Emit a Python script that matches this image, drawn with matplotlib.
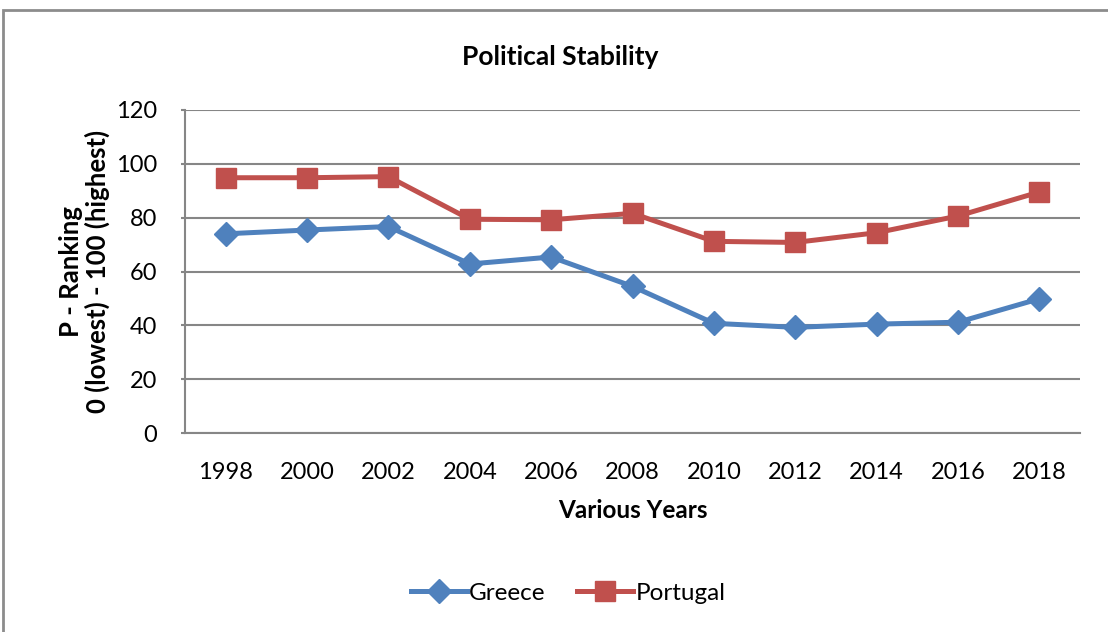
import matplotlib
matplotlib.use("Agg")
import matplotlib.pyplot as plt
from matplotlib.patches import Rectangle

years = ["1998", "2000", "2002", "2004", "2006", "2008", "2010", "2012", "2014", "2016", "2018"]
greece = [74.0, 75.4, 76.7, 62.8, 65.4, 54.5, 40.8, 39.3, 40.5, 41.2, 49.9]
portugal = [94.8, 94.8, 95.2, 79.4, 79.2, 81.6, 71.2, 70.8, 74.4, 80.6, 89.5]
yticks = [0, 20, 40, 60, 80, 100, 120]

plt.rcParams['font.family'] = ['Lato', 'DejaVu Sans']

W, H = 1108, 632
fig = plt.figure(figsize=(W / 100, H / 100), dpi=100)
fig.patches.append(Rectangle((3 / W, -0.1), 1.2, (H - 10) / H + 0.1, transform=fig.transFigure,
                             fill=False, edgecolor='#8c8c8c', linewidth=2))

ax = fig.add_axes([185 / W, 1 - 433.3 / H, (1080 - 185) / W, (433.3 - 109.8) / H])
x = list(range(len(years)))
blue = '#4F81BD'
red = '#C0504D'
ax.plot(x, greece, color=blue, lw=3.6, marker='D', ms=12, label='Greece', zorder=3)
ax.plot(x, portugal, color=red, lw=3.6, marker='s', ms=14.5, label='Portugal', zorder=3)

ax.set_xlim(-0.5, len(years) - 0.5)
ax.set_ylim(0, 120)
ax.set_yticks(yticks)
ax.set_xticks(x)
ax.set_xticklabels(years)
ax.yaxis.grid(True, color='#868686', lw=1.5)
ax.set_axisbelow(True)
for s in ['top', 'right']:
    ax.spines[s].set_visible(False)
for s in ['left', 'bottom']:
    ax.spines[s].set_color('#868686')
    ax.spines[s].set_linewidth(1.5)
ax.tick_params(axis='y', length=3, width=1.5, color='#868686', labelsize=17, labelcolor='black', pad=17)
ax.tick_params(axis='x', length=0, labelsize=17, labelcolor='black', pad=21)

ax.set_xlabel('Various Years', fontsize=17.5, fontweight='bold', labelpad=11)
ax.set_ylabel('P - Ranking\n0 (lowest) - 100 (highest)', fontsize=18.5, fontweight='bold', labelpad=4,
              linespacing=1.1)
fig.text(560 / W, 1 - 57 / H, 'Political Stability', ha='center', va='center', fontsize=19, fontweight='bold')

leg = fig.legend(loc='center', bbox_to_anchor=(568 / W, 1 - 593 / H), ncol=2, frameon=False, fontsize=17.5,
                 handlelength=2.3, columnspacing=1.3, handletextpad=0.1)

fig.savefig('out.png', dpi=100)
